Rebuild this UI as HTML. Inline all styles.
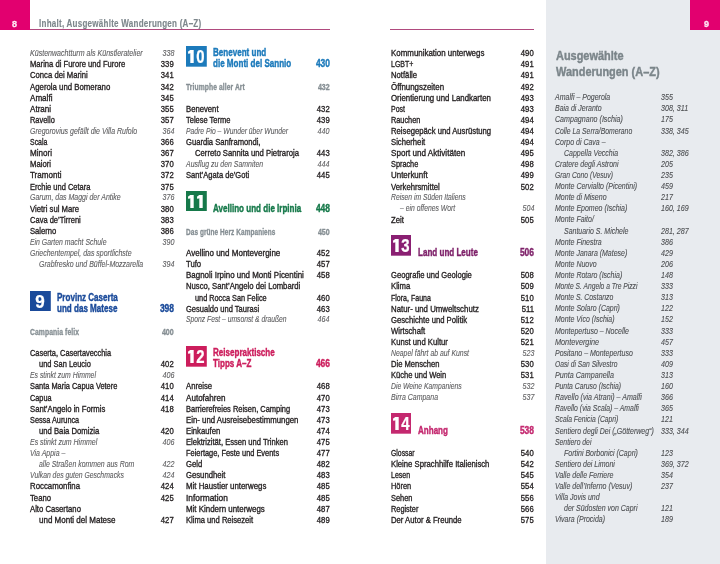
<!DOCTYPE html>
<html><head><meta charset="utf-8"><style>
html,body{margin:0;padding:0;}
body{width:720px;height:564px;position:relative;overflow:hidden;background:#fff;font-family:"Liberation Sans",sans-serif;}
.t{position:absolute;white-space:nowrap;-webkit-text-stroke:0.32px currentColor;}
.box{position:absolute;width:20.6px;height:20.6px;}
.dg{width:20.6px;text-align:center;color:#fff;font-weight:bold;transform:scaleX(0.94);transform-origin:50% 0;-webkit-text-stroke:0.3px #fff;}
.abs{position:absolute;}
</style></head><body>
<div id="pg" style="position:absolute;left:0;top:0;width:720px;height:564px;overflow:hidden;background:#fff;filter:blur(0.4px)">
<div class="abs" style="left:546px;top:0;width:174px;height:564px;background:#e8ebef"></div>
<div class="abs" style="left:0;top:0;width:30px;height:29.5px;background:#e2006f"></div>
<div class="abs" style="left:690px;top:0;width:30px;height:30px;background:#e2006f"></div>
<div class="abs" style="left:30px;top:29px;width:300px;height:1px;background:#b04a7e"></div>
<div class="abs" style="left:390px;top:29px;width:144px;height:1px;background:#b04a7e"></div>
<div class="t" style="top:18.63px;font-size:9.8px;line-height:10.947px;color:#ffe6f4;font-weight:bold;left:11.70px;transform:scaleX(0.92);transform-origin:0 0;">8</div>
<div class="t" style="top:18.63px;font-size:9.8px;line-height:10.947px;color:#ffe6f4;font-weight:bold;left:703.70px;transform:scaleX(0.92);transform-origin:0 0;">9</div>
<div class="t" style="top:17.77px;font-size:10.2px;line-height:11.393px;color:#7d878c;font-weight:bold;left:38.50px;transform:scaleX(0.79);transform-origin:0 0;-webkit-text-stroke:0.15px currentColor;letter-spacing:0.3px;">Inhalt, Ausgewählte Wanderungen (A–Z)</div>
<div class="t" style="top:48.82px;font-size:8.6px;line-height:9.606px;color:#5f5f61;font-style:italic;left:30.20px;transform:scaleX(0.822);transform-origin:0 0;-webkit-text-stroke:0.12px currentColor;">Küstenwachtturm als Künstleratelier</div>
<div class="t" style="top:48.82px;font-size:8.6px;line-height:9.606px;color:#5f5f61;font-style:italic;right:546.00px;transform:scaleX(0.8279);transform-origin:100% 0;-webkit-text-stroke:0.12px currentColor;">338</div>
<div class="t" style="top:60.29px;font-size:8.2px;line-height:9.159px;color:#231f20;left:30.20px;transform:scaleX(0.9312);transform-origin:0 0;">Marina di Furore und Furore</div>
<div class="t" style="top:60.29px;font-size:8.2px;line-height:9.159px;color:#231f20;right:546.00px;transform:scaleX(0.94);transform-origin:100% 0;">339</div>
<div class="t" style="top:71.40px;font-size:8.2px;line-height:9.159px;color:#231f20;left:30.20px;transform:scaleX(0.94);transform-origin:0 0;">Conca dei Marini</div>
<div class="t" style="top:71.40px;font-size:8.2px;line-height:9.159px;color:#231f20;right:546.00px;transform:scaleX(0.94);transform-origin:100% 0;">341</div>
<div class="t" style="top:82.51px;font-size:8.2px;line-height:9.159px;color:#231f20;left:30.20px;transform:scaleX(0.9532);transform-origin:0 0;">Agerola und Bomerano</div>
<div class="t" style="top:82.51px;font-size:8.2px;line-height:9.159px;color:#231f20;right:546.00px;transform:scaleX(0.94);transform-origin:100% 0;">342</div>
<div class="t" style="top:93.62px;font-size:8.2px;line-height:9.159px;color:#231f20;left:30.20px;transform:scaleX(0.987);transform-origin:0 0;">Amalfi</div>
<div class="t" style="top:93.62px;font-size:8.2px;line-height:9.159px;color:#231f20;right:546.00px;transform:scaleX(0.94);transform-origin:100% 0;">345</div>
<div class="t" style="top:104.73px;font-size:8.2px;line-height:9.159px;color:#231f20;left:30.20px;transform:scaleX(0.987);transform-origin:0 0;">Atrani</div>
<div class="t" style="top:104.73px;font-size:8.2px;line-height:9.159px;color:#231f20;right:546.00px;transform:scaleX(0.94);transform-origin:100% 0;">355</div>
<div class="t" style="top:115.84px;font-size:8.2px;line-height:9.159px;color:#231f20;left:30.20px;transform:scaleX(0.907);transform-origin:0 0;">Ravello</div>
<div class="t" style="top:115.84px;font-size:8.2px;line-height:9.159px;color:#231f20;right:546.00px;transform:scaleX(0.94);transform-origin:100% 0;">357</div>
<div class="t" style="top:126.59px;font-size:8.6px;line-height:9.606px;color:#5f5f61;font-style:italic;left:30.20px;transform:scaleX(0.814);transform-origin:0 0;-webkit-text-stroke:0.12px currentColor;">Gregorovius gefällt die Villa Rufolo</div>
<div class="t" style="top:126.59px;font-size:8.6px;line-height:9.606px;color:#5f5f61;font-style:italic;right:546.00px;transform:scaleX(0.8279);transform-origin:100% 0;-webkit-text-stroke:0.12px currentColor;">364</div>
<div class="t" style="top:138.06px;font-size:8.2px;line-height:9.159px;color:#231f20;left:30.20px;transform:scaleX(0.8483);transform-origin:0 0;">Scala</div>
<div class="t" style="top:138.06px;font-size:8.2px;line-height:9.159px;color:#231f20;right:546.00px;transform:scaleX(0.94);transform-origin:100% 0;">366</div>
<div class="t" style="top:149.17px;font-size:8.2px;line-height:9.159px;color:#231f20;left:30.20px;transform:scaleX(0.987);transform-origin:0 0;">Minori</div>
<div class="t" style="top:149.17px;font-size:8.2px;line-height:9.159px;color:#231f20;right:546.00px;transform:scaleX(0.94);transform-origin:100% 0;">367</div>
<div class="t" style="top:160.28px;font-size:8.2px;line-height:9.159px;color:#231f20;left:30.20px;transform:scaleX(0.94);transform-origin:0 0;">Maiori</div>
<div class="t" style="top:160.28px;font-size:8.2px;line-height:9.159px;color:#231f20;right:546.00px;transform:scaleX(0.94);transform-origin:100% 0;">370</div>
<div class="t" style="top:171.39px;font-size:8.2px;line-height:9.159px;color:#231f20;left:30.20px;transform:scaleX(0.9845);transform-origin:0 0;">Tramonti</div>
<div class="t" style="top:171.39px;font-size:8.2px;line-height:9.159px;color:#231f20;right:546.00px;transform:scaleX(0.94);transform-origin:100% 0;">372</div>
<div class="t" style="top:182.50px;font-size:8.2px;line-height:9.159px;color:#231f20;left:30.20px;transform:scaleX(0.9156);transform-origin:0 0;">Erchie und Cetara</div>
<div class="t" style="top:182.50px;font-size:8.2px;line-height:9.159px;color:#231f20;right:546.00px;transform:scaleX(0.94);transform-origin:100% 0;">375</div>
<div class="t" style="top:193.25px;font-size:8.6px;line-height:9.606px;color:#5f5f61;font-style:italic;left:30.20px;transform:scaleX(0.814);transform-origin:0 0;-webkit-text-stroke:0.12px currentColor;">Garum, das Maggi der Antike</div>
<div class="t" style="top:193.25px;font-size:8.6px;line-height:9.606px;color:#5f5f61;font-style:italic;right:546.00px;transform:scaleX(0.8279);transform-origin:100% 0;-webkit-text-stroke:0.12px currentColor;">376</div>
<div class="t" style="top:204.72px;font-size:8.2px;line-height:9.159px;color:#231f20;left:30.20px;transform:scaleX(0.94);transform-origin:0 0;">Vietri sul Mare</div>
<div class="t" style="top:204.72px;font-size:8.2px;line-height:9.159px;color:#231f20;right:546.00px;transform:scaleX(0.94);transform-origin:100% 0;">380</div>
<div class="t" style="top:215.83px;font-size:8.2px;line-height:9.159px;color:#231f20;left:30.20px;transform:scaleX(0.92);transform-origin:0 0;">Cava de’Tirreni</div>
<div class="t" style="top:215.83px;font-size:8.2px;line-height:9.159px;color:#231f20;right:546.00px;transform:scaleX(0.94);transform-origin:100% 0;">383</div>
<div class="t" style="top:226.94px;font-size:8.2px;line-height:9.159px;color:#231f20;left:30.20px;transform:scaleX(0.9341);transform-origin:0 0;">Salerno</div>
<div class="t" style="top:226.94px;font-size:8.2px;line-height:9.159px;color:#231f20;right:546.00px;transform:scaleX(0.94);transform-origin:100% 0;">386</div>
<div class="t" style="top:237.69px;font-size:8.6px;line-height:9.606px;color:#5f5f61;font-style:italic;left:30.20px;transform:scaleX(0.8003);transform-origin:0 0;-webkit-text-stroke:0.12px currentColor;">Ein Garten macht Schule</div>
<div class="t" style="top:237.69px;font-size:8.6px;line-height:9.606px;color:#5f5f61;font-style:italic;right:546.00px;transform:scaleX(0.8279);transform-origin:100% 0;-webkit-text-stroke:0.12px currentColor;">390</div>
<div class="t" style="top:248.80px;font-size:8.6px;line-height:9.606px;color:#5f5f61;font-style:italic;left:30.20px;transform:scaleX(0.8124);transform-origin:0 0;-webkit-text-stroke:0.12px currentColor;">Griechentempel, das sportlichste</div>
<div class="t" style="top:259.91px;font-size:8.6px;line-height:9.606px;color:#5f5f61;font-style:italic;left:39.20px;transform:scaleX(0.814);transform-origin:0 0;-webkit-text-stroke:0.12px currentColor;">Grabfresko und Büffel-Mozzarella</div>
<div class="t" style="top:259.91px;font-size:8.6px;line-height:9.606px;color:#5f5f61;font-style:italic;right:546.00px;transform:scaleX(0.8279);transform-origin:100% 0;-webkit-text-stroke:0.12px currentColor;">394</div>
<div class="t" style="top:327.73px;font-size:8.2px;line-height:9.159px;color:#858e93;font-weight:bold;left:30.20px;transform:scaleX(0.8285);transform-origin:0 0;-webkit-text-stroke:0.3px currentColor;letter-spacing:0.1px;">Campania felix</div>
<div class="t" style="top:327.73px;font-size:8.2px;line-height:9.159px;color:#858e93;font-weight:bold;right:546.00px;transform:scaleX(0.86);transform-origin:100% 0;">400</div>
<div class="t" style="top:349.15px;font-size:8.2px;line-height:9.159px;color:#231f20;left:30.20px;transform:scaleX(0.9051);transform-origin:0 0;">Caserta, Casertavecchia</div>
<div class="t" style="top:360.26px;font-size:8.2px;line-height:9.159px;color:#231f20;left:39.20px;transform:scaleX(0.9119);transform-origin:0 0;">und San Leucio</div>
<div class="t" style="top:360.26px;font-size:8.2px;line-height:9.159px;color:#231f20;right:546.00px;transform:scaleX(0.94);transform-origin:100% 0;">402</div>
<div class="t" style="top:371.01px;font-size:8.6px;line-height:9.606px;color:#5f5f61;font-style:italic;left:30.20px;transform:scaleX(0.7983);transform-origin:0 0;-webkit-text-stroke:0.12px currentColor;">Es stinkt zum Himmel</div>
<div class="t" style="top:371.01px;font-size:8.6px;line-height:9.606px;color:#5f5f61;font-style:italic;right:546.00px;transform:scaleX(0.8279);transform-origin:100% 0;-webkit-text-stroke:0.12px currentColor;">406</div>
<div class="t" style="top:382.48px;font-size:8.2px;line-height:9.159px;color:#231f20;left:30.20px;transform:scaleX(0.9047);transform-origin:0 0;">Santa Maria Capua Vetere</div>
<div class="t" style="top:382.48px;font-size:8.2px;line-height:9.159px;color:#231f20;right:546.00px;transform:scaleX(0.94);transform-origin:100% 0;">410</div>
<div class="t" style="top:393.59px;font-size:8.2px;line-height:9.159px;color:#231f20;left:30.20px;transform:scaleX(0.893);transform-origin:0 0;">Capua</div>
<div class="t" style="top:393.59px;font-size:8.2px;line-height:9.159px;color:#231f20;right:546.00px;transform:scaleX(0.94);transform-origin:100% 0;">414</div>
<div class="t" style="top:404.70px;font-size:8.2px;line-height:9.159px;color:#231f20;left:30.20px;transform:scaleX(0.94);transform-origin:0 0;">Sant’Angelo in Formis</div>
<div class="t" style="top:404.70px;font-size:8.2px;line-height:9.159px;color:#231f20;right:546.00px;transform:scaleX(0.94);transform-origin:100% 0;">418</div>
<div class="t" style="top:415.81px;font-size:8.2px;line-height:9.159px;color:#231f20;left:30.20px;transform:scaleX(0.893);transform-origin:0 0;">Sessa Aurunca</div>
<div class="t" style="top:426.92px;font-size:8.2px;line-height:9.159px;color:#231f20;left:39.20px;transform:scaleX(0.94);transform-origin:0 0;">und Baia Domizia</div>
<div class="t" style="top:426.92px;font-size:8.2px;line-height:9.159px;color:#231f20;right:546.00px;transform:scaleX(0.94);transform-origin:100% 0;">420</div>
<div class="t" style="top:437.67px;font-size:8.6px;line-height:9.606px;color:#5f5f61;font-style:italic;left:30.20px;transform:scaleX(0.8142);transform-origin:0 0;-webkit-text-stroke:0.12px currentColor;">Es stinkt zum Himmel</div>
<div class="t" style="top:437.67px;font-size:8.6px;line-height:9.606px;color:#5f5f61;font-style:italic;right:546.00px;transform:scaleX(0.8279);transform-origin:100% 0;-webkit-text-stroke:0.12px currentColor;">406</div>
<div class="t" style="top:448.78px;font-size:8.6px;line-height:9.606px;color:#5f5f61;font-style:italic;left:30.20px;transform:scaleX(0.814);transform-origin:0 0;-webkit-text-stroke:0.12px currentColor;">Via Appia –</div>
<div class="t" style="top:459.89px;font-size:8.6px;line-height:9.606px;color:#5f5f61;font-style:italic;left:39.20px;transform:scaleX(0.8046);transform-origin:0 0;-webkit-text-stroke:0.12px currentColor;">alle Straßen kommen aus Rom</div>
<div class="t" style="top:459.89px;font-size:8.6px;line-height:9.606px;color:#5f5f61;font-style:italic;right:546.00px;transform:scaleX(0.8279);transform-origin:100% 0;-webkit-text-stroke:0.12px currentColor;">422</div>
<div class="t" style="top:471.00px;font-size:8.6px;line-height:9.606px;color:#5f5f61;font-style:italic;left:30.20px;transform:scaleX(0.7933);transform-origin:0 0;-webkit-text-stroke:0.12px currentColor;">Vulkan des guten Geschmacks</div>
<div class="t" style="top:471.00px;font-size:8.6px;line-height:9.606px;color:#5f5f61;font-style:italic;right:546.00px;transform:scaleX(0.8279);transform-origin:100% 0;-webkit-text-stroke:0.12px currentColor;">424</div>
<div class="t" style="top:482.47px;font-size:8.2px;line-height:9.159px;color:#231f20;left:30.20px;transform:scaleX(0.9555);transform-origin:0 0;">Roccamonfina</div>
<div class="t" style="top:482.47px;font-size:8.2px;line-height:9.159px;color:#231f20;right:546.00px;transform:scaleX(0.94);transform-origin:100% 0;">424</div>
<div class="t" style="top:493.58px;font-size:8.2px;line-height:9.159px;color:#231f20;left:30.20px;transform:scaleX(0.94);transform-origin:0 0;">Teano</div>
<div class="t" style="top:493.58px;font-size:8.2px;line-height:9.159px;color:#231f20;right:546.00px;transform:scaleX(0.94);transform-origin:100% 0;">425</div>
<div class="t" style="top:504.69px;font-size:8.2px;line-height:9.159px;color:#231f20;left:30.20px;transform:scaleX(0.94);transform-origin:0 0;">Alto Casertano</div>
<div class="t" style="top:515.80px;font-size:8.2px;line-height:9.159px;color:#231f20;left:39.20px;transform:scaleX(0.9775);transform-origin:0 0;">und Monti del Matese</div>
<div class="t" style="top:515.80px;font-size:8.2px;line-height:9.159px;color:#231f20;right:546.00px;transform:scaleX(0.94);transform-origin:100% 0;">427</div>
<svg class="abs" style="left:30.20px;top:290.63px" width="20.8" height="20.7" viewBox="0 0 20.8 20.7"><rect x="0" y="0" width="20.8" height="20.7" fill="#1a4a9a"/><text transform="translate(5.32,17.0) scale(0.947,1)" font-size="18.0" font-weight="bold" fill="#fff" stroke="#fff" stroke-width="0.25" font-family="Liberation Sans">9</text></svg>
<div class="t" style="top:291.79px;font-size:10.2px;line-height:11.393px;color:#1a4a9a;font-weight:bold;left:57.40px;transform:scaleX(0.79);transform-origin:0 0;-webkit-text-stroke:0.4px currentColor;">Provinz Caserta</div>
<div class="t" style="top:302.90px;font-size:10.2px;line-height:11.393px;color:#1a4a9a;font-weight:bold;left:57.40px;transform:scaleX(0.79);transform-origin:0 0;-webkit-text-stroke:0.4px currentColor;">und das Matese</div>
<div class="t" style="top:302.90px;font-size:10.2px;line-height:11.393px;color:#1a4a9a;font-weight:bold;right:546.00px;transform:scaleX(0.83);transform-origin:100% 0;-webkit-text-stroke:0.4px currentColor;">398</div>
<svg class="abs" style="left:186.20px;top:46.21px" width="20.8" height="20.7" viewBox="0 0 20.8 20.7"><rect x="0" y="0" width="20.8" height="20.7" fill="#1c7abb"/><polygon fill="#fff" points="4.20,4.10 7.70,4.10 7.70,17.00 4.30,17.00 4.30,7.20 2.40,8.00 1.90,5.80"/><text transform="translate(10.30,17.0) scale(0.830,1)" font-size="18.0" font-weight="bold" fill="#fff" stroke="#fff" stroke-width="0.25" font-family="Liberation Sans">0</text></svg>
<div class="t" style="top:47.37px;font-size:10.2px;line-height:11.393px;color:#1c7abb;font-weight:bold;left:213.40px;transform:scaleX(0.79);transform-origin:0 0;-webkit-text-stroke:0.4px currentColor;">Benevent und</div>
<div class="t" style="top:58.48px;font-size:10.2px;line-height:11.393px;color:#1c7abb;font-weight:bold;left:213.40px;transform:scaleX(0.79);transform-origin:0 0;-webkit-text-stroke:0.4px currentColor;">die Monti del Sannio</div>
<div class="t" style="top:58.48px;font-size:10.2px;line-height:11.393px;color:#1c7abb;font-weight:bold;right:390.20px;transform:scaleX(0.83);transform-origin:100% 0;-webkit-text-stroke:0.4px currentColor;">430</div>
<div class="t" style="top:83.31px;font-size:8.2px;line-height:9.159px;color:#858e93;font-weight:bold;left:186.20px;transform:scaleX(0.8231);transform-origin:0 0;-webkit-text-stroke:0.3px currentColor;letter-spacing:0.1px;">Triumphe aller Art</div>
<div class="t" style="top:83.31px;font-size:8.2px;line-height:9.159px;color:#858e93;font-weight:bold;right:390.20px;transform:scaleX(0.86);transform-origin:100% 0;">432</div>
<div class="t" style="top:104.73px;font-size:8.2px;line-height:9.159px;color:#231f20;left:186.20px;transform:scaleX(0.94);transform-origin:0 0;">Benevent</div>
<div class="t" style="top:104.73px;font-size:8.2px;line-height:9.159px;color:#231f20;right:390.20px;transform:scaleX(0.94);transform-origin:100% 0;">432</div>
<div class="t" style="top:115.84px;font-size:8.2px;line-height:9.159px;color:#231f20;left:186.20px;transform:scaleX(0.9126);transform-origin:0 0;">Telese Terme</div>
<div class="t" style="top:115.84px;font-size:8.2px;line-height:9.159px;color:#231f20;right:390.20px;transform:scaleX(0.94);transform-origin:100% 0;">439</div>
<div class="t" style="top:126.59px;font-size:8.6px;line-height:9.606px;color:#5f5f61;font-style:italic;left:186.20px;transform:scaleX(0.7877);transform-origin:0 0;-webkit-text-stroke:0.12px currentColor;">Padre Pio – Wunder über Wunder</div>
<div class="t" style="top:126.59px;font-size:8.6px;line-height:9.606px;color:#5f5f61;font-style:italic;right:390.20px;transform:scaleX(0.8279);transform-origin:100% 0;-webkit-text-stroke:0.12px currentColor;">440</div>
<div class="t" style="top:138.06px;font-size:8.2px;line-height:9.159px;color:#231f20;left:186.20px;transform:scaleX(0.9299);transform-origin:0 0;">Guardia Sanframondi,</div>
<div class="t" style="top:149.17px;font-size:8.2px;line-height:9.159px;color:#231f20;left:195.20px;transform:scaleX(0.94);transform-origin:0 0;">Cerreto Sannita und Pietraroja</div>
<div class="t" style="top:149.17px;font-size:8.2px;line-height:9.159px;color:#231f20;right:390.20px;transform:scaleX(0.94);transform-origin:100% 0;">443</div>
<div class="t" style="top:159.92px;font-size:8.6px;line-height:9.606px;color:#5f5f61;font-style:italic;left:186.20px;transform:scaleX(0.8069);transform-origin:0 0;-webkit-text-stroke:0.12px currentColor;">Ausflug zu den Samniten</div>
<div class="t" style="top:159.92px;font-size:8.6px;line-height:9.606px;color:#5f5f61;font-style:italic;right:390.20px;transform:scaleX(0.8279);transform-origin:100% 0;-webkit-text-stroke:0.12px currentColor;">444</div>
<div class="t" style="top:171.39px;font-size:8.2px;line-height:9.159px;color:#231f20;left:186.20px;transform:scaleX(0.9267);transform-origin:0 0;">Sant’Agata de’Goti</div>
<div class="t" style="top:171.39px;font-size:8.2px;line-height:9.159px;color:#231f20;right:390.20px;transform:scaleX(0.94);transform-origin:100% 0;">445</div>
<div class="t" style="top:227.74px;font-size:8.2px;line-height:9.159px;color:#858e93;font-weight:bold;left:186.20px;transform:scaleX(0.7874);transform-origin:0 0;-webkit-text-stroke:0.3px currentColor;letter-spacing:0.1px;">Das grüne Herz Kampaniens</div>
<div class="t" style="top:227.74px;font-size:8.2px;line-height:9.159px;color:#858e93;font-weight:bold;right:390.20px;transform:scaleX(0.86);transform-origin:100% 0;">450</div>
<div class="t" style="top:249.16px;font-size:8.2px;line-height:9.159px;color:#231f20;left:186.20px;transform:scaleX(0.9788);transform-origin:0 0;">Avellino und Montevergine</div>
<div class="t" style="top:249.16px;font-size:8.2px;line-height:9.159px;color:#231f20;right:390.20px;transform:scaleX(0.94);transform-origin:100% 0;">452</div>
<div class="t" style="top:260.27px;font-size:8.2px;line-height:9.159px;color:#231f20;left:186.20px;transform:scaleX(0.94);transform-origin:0 0;">Tufo</div>
<div class="t" style="top:260.27px;font-size:8.2px;line-height:9.159px;color:#231f20;right:390.20px;transform:scaleX(0.94);transform-origin:100% 0;">457</div>
<div class="t" style="top:271.38px;font-size:8.2px;line-height:9.159px;color:#231f20;left:186.20px;transform:scaleX(0.9698);transform-origin:0 0;">Bagnoli Irpino und Monti Picentini</div>
<div class="t" style="top:271.38px;font-size:8.2px;line-height:9.159px;color:#231f20;right:390.20px;transform:scaleX(0.94);transform-origin:100% 0;">458</div>
<div class="t" style="top:282.49px;font-size:8.2px;line-height:9.159px;color:#231f20;left:186.20px;transform:scaleX(0.94);transform-origin:0 0;">Nusco, Sant’Angelo dei Lombardi</div>
<div class="t" style="top:293.60px;font-size:8.2px;line-height:9.159px;color:#231f20;left:195.20px;transform:scaleX(0.8946);transform-origin:0 0;">und Rocca San Felice</div>
<div class="t" style="top:293.60px;font-size:8.2px;line-height:9.159px;color:#231f20;right:390.20px;transform:scaleX(0.94);transform-origin:100% 0;">460</div>
<div class="t" style="top:304.71px;font-size:8.2px;line-height:9.159px;color:#231f20;left:186.20px;transform:scaleX(0.9198);transform-origin:0 0;">Gesualdo und Taurasi</div>
<div class="t" style="top:304.71px;font-size:8.2px;line-height:9.159px;color:#231f20;right:390.20px;transform:scaleX(0.94);transform-origin:100% 0;">463</div>
<div class="t" style="top:315.46px;font-size:8.6px;line-height:9.606px;color:#5f5f61;font-style:italic;left:186.20px;transform:scaleX(0.7854);transform-origin:0 0;-webkit-text-stroke:0.12px currentColor;">Sponz Fest – umsonst &amp; draußen</div>
<div class="t" style="top:315.46px;font-size:8.6px;line-height:9.606px;color:#5f5f61;font-style:italic;right:390.20px;transform:scaleX(0.8279);transform-origin:100% 0;-webkit-text-stroke:0.12px currentColor;">464</div>
<div class="t" style="top:382.48px;font-size:8.2px;line-height:9.159px;color:#231f20;left:186.20px;transform:scaleX(0.94);transform-origin:0 0;">Anreise</div>
<div class="t" style="top:382.48px;font-size:8.2px;line-height:9.159px;color:#231f20;right:390.20px;transform:scaleX(0.94);transform-origin:100% 0;">468</div>
<div class="t" style="top:393.59px;font-size:8.2px;line-height:9.159px;color:#231f20;left:186.20px;transform:scaleX(0.987);transform-origin:0 0;">Autofahren</div>
<div class="t" style="top:393.59px;font-size:8.2px;line-height:9.159px;color:#231f20;right:390.20px;transform:scaleX(0.94);transform-origin:100% 0;">470</div>
<div class="t" style="top:404.70px;font-size:8.2px;line-height:9.159px;color:#231f20;left:186.20px;transform:scaleX(0.9119);transform-origin:0 0;">Barrierefreies Reisen, Camping</div>
<div class="t" style="top:404.70px;font-size:8.2px;line-height:9.159px;color:#231f20;right:390.20px;transform:scaleX(0.94);transform-origin:100% 0;">473</div>
<div class="t" style="top:415.81px;font-size:8.2px;line-height:9.159px;color:#231f20;left:186.20px;transform:scaleX(0.9536);transform-origin:0 0;">Ein- und Ausreisebestimmungen</div>
<div class="t" style="top:415.81px;font-size:8.2px;line-height:9.159px;color:#231f20;right:390.20px;transform:scaleX(0.94);transform-origin:100% 0;">473</div>
<div class="t" style="top:426.92px;font-size:8.2px;line-height:9.159px;color:#231f20;left:186.20px;transform:scaleX(0.94);transform-origin:0 0;">Einkaufen</div>
<div class="t" style="top:426.92px;font-size:8.2px;line-height:9.159px;color:#231f20;right:390.20px;transform:scaleX(0.94);transform-origin:100% 0;">474</div>
<div class="t" style="top:438.03px;font-size:8.2px;line-height:9.159px;color:#231f20;left:186.20px;transform:scaleX(0.9253);transform-origin:0 0;">Elektrizität, Essen und Trinken</div>
<div class="t" style="top:438.03px;font-size:8.2px;line-height:9.159px;color:#231f20;right:390.20px;transform:scaleX(0.94);transform-origin:100% 0;">475</div>
<div class="t" style="top:449.14px;font-size:8.2px;line-height:9.159px;color:#231f20;left:186.20px;transform:scaleX(0.905);transform-origin:0 0;">Feiertage, Feste und Events</div>
<div class="t" style="top:449.14px;font-size:8.2px;line-height:9.159px;color:#231f20;right:390.20px;transform:scaleX(0.94);transform-origin:100% 0;">477</div>
<div class="t" style="top:460.25px;font-size:8.2px;line-height:9.159px;color:#231f20;left:186.20px;transform:scaleX(0.94);transform-origin:0 0;">Geld</div>
<div class="t" style="top:460.25px;font-size:8.2px;line-height:9.159px;color:#231f20;right:390.20px;transform:scaleX(0.94);transform-origin:100% 0;">482</div>
<div class="t" style="top:471.36px;font-size:8.2px;line-height:9.159px;color:#231f20;left:186.20px;transform:scaleX(0.94);transform-origin:0 0;">Gesundheit</div>
<div class="t" style="top:471.36px;font-size:8.2px;line-height:9.159px;color:#231f20;right:390.20px;transform:scaleX(0.94);transform-origin:100% 0;">483</div>
<div class="t" style="top:482.47px;font-size:8.2px;line-height:9.159px;color:#231f20;left:186.20px;transform:scaleX(0.9591);transform-origin:0 0;">Mit Haustier unterwegs</div>
<div class="t" style="top:482.47px;font-size:8.2px;line-height:9.159px;color:#231f20;right:390.20px;transform:scaleX(0.94);transform-origin:100% 0;">485</div>
<div class="t" style="top:493.58px;font-size:8.2px;line-height:9.159px;color:#231f20;left:186.20px;transform:scaleX(1.0219);transform-origin:0 0;">Information</div>
<div class="t" style="top:493.58px;font-size:8.2px;line-height:9.159px;color:#231f20;right:390.20px;transform:scaleX(0.94);transform-origin:100% 0;">485</div>
<div class="t" style="top:504.69px;font-size:8.2px;line-height:9.159px;color:#231f20;left:186.20px;transform:scaleX(0.967);transform-origin:0 0;">Mit Kindern unterwegs</div>
<div class="t" style="top:504.69px;font-size:8.2px;line-height:9.159px;color:#231f20;right:390.20px;transform:scaleX(0.94);transform-origin:100% 0;">487</div>
<div class="t" style="top:515.80px;font-size:8.2px;line-height:9.159px;color:#231f20;left:186.20px;transform:scaleX(0.9275);transform-origin:0 0;">Klima und Reisezeit</div>
<div class="t" style="top:515.80px;font-size:8.2px;line-height:9.159px;color:#231f20;right:390.20px;transform:scaleX(0.94);transform-origin:100% 0;">489</div>
<svg class="abs" style="left:186.20px;top:190.64px" width="20.8" height="20.7" viewBox="0 0 20.8 20.7"><rect x="0" y="0" width="20.8" height="20.7" fill="#16794a"/><polygon fill="#fff" points="4.20,4.10 7.70,4.10 7.70,17.00 4.30,17.00 4.30,7.20 2.40,8.00 1.90,5.80"/><polygon fill="#fff" points="13.20,4.10 16.70,4.10 16.70,17.00 13.30,17.00 13.30,7.20 11.40,8.00 10.90,5.80"/></svg>
<div class="t" style="top:202.91px;font-size:10.2px;line-height:11.393px;color:#16794a;font-weight:bold;left:213.40px;transform:scaleX(0.79);transform-origin:0 0;-webkit-text-stroke:0.4px currentColor;">Avellino und die Irpinia</div>
<div class="t" style="top:202.91px;font-size:10.2px;line-height:11.393px;color:#16794a;font-weight:bold;right:390.20px;transform:scaleX(0.83);transform-origin:100% 0;-webkit-text-stroke:0.4px currentColor;">448</div>
<svg class="abs" style="left:186.20px;top:346.18px" width="20.8" height="20.7" viewBox="0 0 20.8 20.7"><rect x="0" y="0" width="20.8" height="20.7" fill="#cc1d5c"/><polygon fill="#fff" points="4.20,4.10 7.70,4.10 7.70,17.00 4.30,17.00 4.30,7.20 2.40,8.00 1.90,5.80"/><text transform="translate(10.30,17.0) scale(0.830,1)" font-size="18.0" font-weight="bold" fill="#fff" stroke="#fff" stroke-width="0.25" font-family="Liberation Sans">2</text></svg>
<div class="t" style="top:347.34px;font-size:10.2px;line-height:11.393px;color:#cc1d5c;font-weight:bold;left:213.40px;transform:scaleX(0.79);transform-origin:0 0;-webkit-text-stroke:0.4px currentColor;">Reisepraktische</div>
<div class="t" style="top:358.45px;font-size:10.2px;line-height:11.393px;color:#cc1d5c;font-weight:bold;left:213.40px;transform:scaleX(0.79);transform-origin:0 0;-webkit-text-stroke:0.4px currentColor;">Tipps A–Z</div>
<div class="t" style="top:358.45px;font-size:10.2px;line-height:11.393px;color:#cc1d5c;font-weight:bold;right:390.20px;transform:scaleX(0.83);transform-origin:100% 0;-webkit-text-stroke:0.4px currentColor;">466</div>
<div class="t" style="top:49.18px;font-size:8.2px;line-height:9.159px;color:#231f20;left:390.60px;transform:scaleX(0.968);transform-origin:0 0;">Kommunikation unterwegs</div>
<div class="t" style="top:49.18px;font-size:8.2px;line-height:9.159px;color:#231f20;right:186.00px;transform:scaleX(0.94);transform-origin:100% 0;">490</div>
<div class="t" style="top:60.29px;font-size:8.2px;line-height:9.159px;color:#231f20;left:390.60px;transform:scaleX(0.8574);transform-origin:0 0;">LGBT+</div>
<div class="t" style="top:60.29px;font-size:8.2px;line-height:9.159px;color:#231f20;right:186.00px;transform:scaleX(0.94);transform-origin:100% 0;">491</div>
<div class="t" style="top:71.40px;font-size:8.2px;line-height:9.159px;color:#231f20;left:390.60px;transform:scaleX(0.94);transform-origin:0 0;">Notfälle</div>
<div class="t" style="top:71.40px;font-size:8.2px;line-height:9.159px;color:#231f20;right:186.00px;transform:scaleX(0.94);transform-origin:100% 0;">491</div>
<div class="t" style="top:82.51px;font-size:8.2px;line-height:9.159px;color:#231f20;left:390.60px;transform:scaleX(0.966);transform-origin:0 0;">Öffnungszeiten</div>
<div class="t" style="top:82.51px;font-size:8.2px;line-height:9.159px;color:#231f20;right:186.00px;transform:scaleX(0.94);transform-origin:100% 0;">492</div>
<div class="t" style="top:93.62px;font-size:8.2px;line-height:9.159px;color:#231f20;left:390.60px;transform:scaleX(0.9583);transform-origin:0 0;">Orientierung und Landkarten</div>
<div class="t" style="top:93.62px;font-size:8.2px;line-height:9.159px;color:#231f20;right:186.00px;transform:scaleX(0.94);transform-origin:100% 0;">493</div>
<div class="t" style="top:104.73px;font-size:8.2px;line-height:9.159px;color:#231f20;left:390.60px;transform:scaleX(0.8483);transform-origin:0 0;">Post</div>
<div class="t" style="top:104.73px;font-size:8.2px;line-height:9.159px;color:#231f20;right:186.00px;transform:scaleX(0.94);transform-origin:100% 0;">493</div>
<div class="t" style="top:115.84px;font-size:8.2px;line-height:9.159px;color:#231f20;left:390.60px;transform:scaleX(0.893);transform-origin:0 0;">Rauchen</div>
<div class="t" style="top:115.84px;font-size:8.2px;line-height:9.159px;color:#231f20;right:186.00px;transform:scaleX(0.94);transform-origin:100% 0;">494</div>
<div class="t" style="top:126.95px;font-size:8.2px;line-height:9.159px;color:#231f20;left:390.60px;transform:scaleX(0.94);transform-origin:0 0;">Reisegepäck und Ausrüstung</div>
<div class="t" style="top:126.95px;font-size:8.2px;line-height:9.159px;color:#231f20;right:186.00px;transform:scaleX(0.94);transform-origin:100% 0;">494</div>
<div class="t" style="top:138.06px;font-size:8.2px;line-height:9.159px;color:#231f20;left:390.60px;transform:scaleX(0.94);transform-origin:0 0;">Sicherheit</div>
<div class="t" style="top:138.06px;font-size:8.2px;line-height:9.159px;color:#231f20;right:186.00px;transform:scaleX(0.94);transform-origin:100% 0;">494</div>
<div class="t" style="top:149.17px;font-size:8.2px;line-height:9.159px;color:#231f20;left:390.60px;transform:scaleX(0.987);transform-origin:0 0;">Sport und Aktivitäten</div>
<div class="t" style="top:149.17px;font-size:8.2px;line-height:9.159px;color:#231f20;right:186.00px;transform:scaleX(0.94);transform-origin:100% 0;">495</div>
<div class="t" style="top:160.28px;font-size:8.2px;line-height:9.159px;color:#231f20;left:390.60px;transform:scaleX(0.893);transform-origin:0 0;">Sprache</div>
<div class="t" style="top:160.28px;font-size:8.2px;line-height:9.159px;color:#231f20;right:186.00px;transform:scaleX(0.94);transform-origin:100% 0;">498</div>
<div class="t" style="top:171.39px;font-size:8.2px;line-height:9.159px;color:#231f20;left:390.60px;transform:scaleX(0.969);transform-origin:0 0;">Unterkunft</div>
<div class="t" style="top:171.39px;font-size:8.2px;line-height:9.159px;color:#231f20;right:186.00px;transform:scaleX(0.94);transform-origin:100% 0;">499</div>
<div class="t" style="top:182.50px;font-size:8.2px;line-height:9.159px;color:#231f20;left:390.60px;transform:scaleX(0.94);transform-origin:0 0;">Verkehrsmittel</div>
<div class="t" style="top:182.50px;font-size:8.2px;line-height:9.159px;color:#231f20;right:186.00px;transform:scaleX(0.94);transform-origin:100% 0;">502</div>
<div class="t" style="top:193.25px;font-size:8.6px;line-height:9.606px;color:#5f5f61;font-style:italic;left:390.60px;transform:scaleX(0.7863);transform-origin:0 0;-webkit-text-stroke:0.12px currentColor;">Reisen im Süden Italiens</div>
<div class="t" style="top:204.36px;font-size:8.6px;line-height:9.606px;color:#5f5f61;font-style:italic;left:399.60px;transform:scaleX(0.791);transform-origin:0 0;-webkit-text-stroke:0.12px currentColor;">– ein offenes Wort</div>
<div class="t" style="top:204.36px;font-size:8.6px;line-height:9.606px;color:#5f5f61;font-style:italic;right:186.00px;transform:scaleX(0.8279);transform-origin:100% 0;-webkit-text-stroke:0.12px currentColor;">504</div>
<div class="t" style="top:215.83px;font-size:8.2px;line-height:9.159px;color:#231f20;left:390.60px;transform:scaleX(0.94);transform-origin:0 0;">Zeit</div>
<div class="t" style="top:215.83px;font-size:8.2px;line-height:9.159px;color:#231f20;right:186.00px;transform:scaleX(0.94);transform-origin:100% 0;">505</div>
<div class="t" style="top:271.38px;font-size:8.2px;line-height:9.159px;color:#231f20;left:390.60px;transform:scaleX(0.9296);transform-origin:0 0;">Geografie und Geologie</div>
<div class="t" style="top:271.38px;font-size:8.2px;line-height:9.159px;color:#231f20;right:186.00px;transform:scaleX(0.94);transform-origin:100% 0;">508</div>
<div class="t" style="top:282.49px;font-size:8.2px;line-height:9.159px;color:#231f20;left:390.60px;transform:scaleX(0.94);transform-origin:0 0;">Klima</div>
<div class="t" style="top:282.49px;font-size:8.2px;line-height:9.159px;color:#231f20;right:186.00px;transform:scaleX(0.94);transform-origin:100% 0;">509</div>
<div class="t" style="top:293.60px;font-size:8.2px;line-height:9.159px;color:#231f20;left:390.60px;transform:scaleX(0.8587);transform-origin:0 0;">Flora, Fauna</div>
<div class="t" style="top:293.60px;font-size:8.2px;line-height:9.159px;color:#231f20;right:186.00px;transform:scaleX(0.94);transform-origin:100% 0;">510</div>
<div class="t" style="top:304.71px;font-size:8.2px;line-height:9.159px;color:#231f20;left:390.60px;transform:scaleX(0.9555);transform-origin:0 0;">Natur- und Umweltschutz</div>
<div class="t" style="top:304.71px;font-size:8.2px;line-height:9.159px;color:#231f20;right:186.00px;transform:scaleX(0.94);transform-origin:100% 0;">511</div>
<div class="t" style="top:315.82px;font-size:8.2px;line-height:9.159px;color:#231f20;left:390.60px;transform:scaleX(0.94);transform-origin:0 0;">Geschichte und Politik</div>
<div class="t" style="top:315.82px;font-size:8.2px;line-height:9.159px;color:#231f20;right:186.00px;transform:scaleX(0.94);transform-origin:100% 0;">512</div>
<div class="t" style="top:326.93px;font-size:8.2px;line-height:9.159px;color:#231f20;left:390.60px;transform:scaleX(0.94);transform-origin:0 0;">Wirtschaft</div>
<div class="t" style="top:326.93px;font-size:8.2px;line-height:9.159px;color:#231f20;right:186.00px;transform:scaleX(0.94);transform-origin:100% 0;">520</div>
<div class="t" style="top:338.04px;font-size:8.2px;line-height:9.159px;color:#231f20;left:390.60px;transform:scaleX(0.94);transform-origin:0 0;">Kunst und Kultur</div>
<div class="t" style="top:338.04px;font-size:8.2px;line-height:9.159px;color:#231f20;right:186.00px;transform:scaleX(0.94);transform-origin:100% 0;">521</div>
<div class="t" style="top:348.79px;font-size:8.6px;line-height:9.606px;color:#5f5f61;font-style:italic;left:390.60px;transform:scaleX(0.8007);transform-origin:0 0;-webkit-text-stroke:0.12px currentColor;">Neapel fährt ab auf Kunst</div>
<div class="t" style="top:348.79px;font-size:8.6px;line-height:9.606px;color:#5f5f61;font-style:italic;right:186.00px;transform:scaleX(0.8279);transform-origin:100% 0;-webkit-text-stroke:0.12px currentColor;">523</div>
<div class="t" style="top:360.26px;font-size:8.2px;line-height:9.159px;color:#231f20;left:390.60px;transform:scaleX(0.9245);transform-origin:0 0;">Die Menschen</div>
<div class="t" style="top:360.26px;font-size:8.2px;line-height:9.159px;color:#231f20;right:186.00px;transform:scaleX(0.94);transform-origin:100% 0;">530</div>
<div class="t" style="top:371.37px;font-size:8.2px;line-height:9.159px;color:#231f20;left:390.60px;transform:scaleX(0.9214);transform-origin:0 0;">Küche und Wein</div>
<div class="t" style="top:371.37px;font-size:8.2px;line-height:9.159px;color:#231f20;right:186.00px;transform:scaleX(0.94);transform-origin:100% 0;">531</div>
<div class="t" style="top:382.12px;font-size:8.6px;line-height:9.606px;color:#5f5f61;font-style:italic;left:390.60px;transform:scaleX(0.7882);transform-origin:0 0;-webkit-text-stroke:0.12px currentColor;">Die Weine Kampaniens</div>
<div class="t" style="top:382.12px;font-size:8.6px;line-height:9.606px;color:#5f5f61;font-style:italic;right:186.00px;transform:scaleX(0.8279);transform-origin:100% 0;-webkit-text-stroke:0.12px currentColor;">532</div>
<div class="t" style="top:393.23px;font-size:8.6px;line-height:9.606px;color:#5f5f61;font-style:italic;left:390.60px;transform:scaleX(0.814);transform-origin:0 0;-webkit-text-stroke:0.12px currentColor;">Birra Campana</div>
<div class="t" style="top:393.23px;font-size:8.6px;line-height:9.606px;color:#5f5f61;font-style:italic;right:186.00px;transform:scaleX(0.8279);transform-origin:100% 0;-webkit-text-stroke:0.12px currentColor;">537</div>
<div class="t" style="top:449.14px;font-size:8.2px;line-height:9.159px;color:#231f20;left:390.60px;transform:scaleX(0.8373);transform-origin:0 0;">Glossar</div>
<div class="t" style="top:449.14px;font-size:8.2px;line-height:9.159px;color:#231f20;right:186.00px;transform:scaleX(0.94);transform-origin:100% 0;">540</div>
<div class="t" style="top:460.25px;font-size:8.2px;line-height:9.159px;color:#231f20;left:390.60px;transform:scaleX(0.94);transform-origin:0 0;">Kleine Sprachhilfe Italienisch</div>
<div class="t" style="top:460.25px;font-size:8.2px;line-height:9.159px;color:#231f20;right:186.00px;transform:scaleX(0.94);transform-origin:100% 0;">542</div>
<div class="t" style="top:471.36px;font-size:8.2px;line-height:9.159px;color:#231f20;left:390.60px;transform:scaleX(0.852);transform-origin:0 0;">Lesen</div>
<div class="t" style="top:471.36px;font-size:8.2px;line-height:9.159px;color:#231f20;right:186.00px;transform:scaleX(0.94);transform-origin:100% 0;">545</div>
<div class="t" style="top:482.47px;font-size:8.2px;line-height:9.159px;color:#231f20;left:390.60px;transform:scaleX(0.9035);transform-origin:0 0;">Hören</div>
<div class="t" style="top:482.47px;font-size:8.2px;line-height:9.159px;color:#231f20;right:186.00px;transform:scaleX(0.94);transform-origin:100% 0;">554</div>
<div class="t" style="top:493.58px;font-size:8.2px;line-height:9.159px;color:#231f20;left:390.60px;transform:scaleX(0.9052);transform-origin:0 0;">Sehen</div>
<div class="t" style="top:493.58px;font-size:8.2px;line-height:9.159px;color:#231f20;right:186.00px;transform:scaleX(0.94);transform-origin:100% 0;">556</div>
<div class="t" style="top:504.69px;font-size:8.2px;line-height:9.159px;color:#231f20;left:390.60px;transform:scaleX(0.8973);transform-origin:0 0;">Register</div>
<div class="t" style="top:504.69px;font-size:8.2px;line-height:9.159px;color:#231f20;right:186.00px;transform:scaleX(0.94);transform-origin:100% 0;">566</div>
<div class="t" style="top:515.80px;font-size:8.2px;line-height:9.159px;color:#231f20;left:390.60px;transform:scaleX(0.94);transform-origin:0 0;">Der Autor &amp; Freunde</div>
<div class="t" style="top:515.80px;font-size:8.2px;line-height:9.159px;color:#231f20;right:186.00px;transform:scaleX(0.94);transform-origin:100% 0;">575</div>
<svg class="abs" style="left:390.60px;top:235.08px" width="20.8" height="20.7" viewBox="0 0 20.8 20.7"><rect x="0" y="0" width="20.8" height="20.7" fill="#8a1f72"/><polygon fill="#fff" points="4.20,4.10 7.70,4.10 7.70,17.00 4.30,17.00 4.30,7.20 2.40,8.00 1.90,5.80"/><text transform="translate(10.30,17.0) scale(0.830,1)" font-size="18.0" font-weight="bold" fill="#fff" stroke="#fff" stroke-width="0.25" font-family="Liberation Sans">3</text></svg>
<div class="t" style="top:247.35px;font-size:10.2px;line-height:11.393px;color:#7d1f68;font-weight:bold;left:417.80px;transform:scaleX(0.79);transform-origin:0 0;-webkit-text-stroke:0.4px currentColor;">Land und Leute</div>
<div class="t" style="top:247.35px;font-size:10.2px;line-height:11.393px;color:#7d1f68;font-weight:bold;right:186.00px;transform:scaleX(0.83);transform-origin:100% 0;-webkit-text-stroke:0.4px currentColor;">506</div>
<svg class="abs" style="left:390.60px;top:412.84px" width="20.8" height="20.7" viewBox="0 0 20.8 20.7"><rect x="0" y="0" width="20.8" height="20.7" fill="#c4286f"/><polygon fill="#fff" points="4.20,4.10 7.70,4.10 7.70,17.00 4.30,17.00 4.30,7.20 2.40,8.00 1.90,5.80"/><text transform="translate(10.30,17.0) scale(0.830,1)" font-size="18.0" font-weight="bold" fill="#fff" stroke="#fff" stroke-width="0.25" font-family="Liberation Sans">4</text></svg>
<div class="t" style="top:425.11px;font-size:10.2px;line-height:11.393px;color:#c4286f;font-weight:bold;left:417.80px;transform:scaleX(0.79);transform-origin:0 0;-webkit-text-stroke:0.4px currentColor;">Anhang</div>
<div class="t" style="top:425.11px;font-size:10.2px;line-height:11.393px;color:#c4286f;font-weight:bold;right:186.00px;transform:scaleX(0.83);transform-origin:100% 0;-webkit-text-stroke:0.4px currentColor;">538</div>
<div class="t" style="top:93.26px;font-size:8.6px;line-height:9.606px;color:#4d4f52;font-style:italic;left:555.30px;transform:scaleX(0.814);transform-origin:0 0;-webkit-text-stroke:0.12px currentColor;">Amalfi – Pogerola</div>
<div class="t" style="top:93.26px;font-size:8.6px;line-height:9.606px;color:#4d4f52;font-style:italic;left:660.50px;transform:scaleX(0.8279);transform-origin:0 0;-webkit-text-stroke:0.12px currentColor;">355</div>
<div class="t" style="top:104.37px;font-size:8.6px;line-height:9.606px;color:#4d4f52;font-style:italic;left:555.30px;transform:scaleX(0.814);transform-origin:0 0;-webkit-text-stroke:0.12px currentColor;">Baia di Jeranto</div>
<div class="t" style="top:104.37px;font-size:8.6px;line-height:9.606px;color:#4d4f52;font-style:italic;left:660.50px;transform:scaleX(0.8279);transform-origin:0 0;-webkit-text-stroke:0.12px currentColor;">308, 311</div>
<div class="t" style="top:115.48px;font-size:8.6px;line-height:9.606px;color:#4d4f52;font-style:italic;left:555.30px;transform:scaleX(0.8249);transform-origin:0 0;-webkit-text-stroke:0.12px currentColor;">Campagnano (Ischia)</div>
<div class="t" style="top:115.48px;font-size:8.6px;line-height:9.606px;color:#4d4f52;font-style:italic;left:660.50px;transform:scaleX(0.8279);transform-origin:0 0;-webkit-text-stroke:0.12px currentColor;">175</div>
<div class="t" style="top:126.59px;font-size:8.6px;line-height:9.606px;color:#4d4f52;font-style:italic;left:555.30px;transform:scaleX(0.7964);transform-origin:0 0;-webkit-text-stroke:0.12px currentColor;">Colle La Serra/Bomerano</div>
<div class="t" style="top:126.59px;font-size:8.6px;line-height:9.606px;color:#4d4f52;font-style:italic;left:660.50px;transform:scaleX(0.8279);transform-origin:0 0;-webkit-text-stroke:0.12px currentColor;">338, 345</div>
<div class="t" style="top:137.70px;font-size:8.6px;line-height:9.606px;color:#4d4f52;font-style:italic;left:555.30px;transform:scaleX(0.8143);transform-origin:0 0;-webkit-text-stroke:0.12px currentColor;">Corpo di Cava –</div>
<div class="t" style="top:148.81px;font-size:8.6px;line-height:9.606px;color:#4d4f52;font-style:italic;left:564.30px;transform:scaleX(0.814);transform-origin:0 0;-webkit-text-stroke:0.12px currentColor;">Cappella Vecchia</div>
<div class="t" style="top:148.81px;font-size:8.6px;line-height:9.606px;color:#4d4f52;font-style:italic;left:660.50px;transform:scaleX(0.8279);transform-origin:0 0;-webkit-text-stroke:0.12px currentColor;">382, 386</div>
<div class="t" style="top:159.92px;font-size:8.6px;line-height:9.606px;color:#4d4f52;font-style:italic;left:555.30px;transform:scaleX(0.814);transform-origin:0 0;-webkit-text-stroke:0.12px currentColor;">Cratere degli Astroni</div>
<div class="t" style="top:159.92px;font-size:8.6px;line-height:9.606px;color:#4d4f52;font-style:italic;left:660.50px;transform:scaleX(0.8279);transform-origin:0 0;-webkit-text-stroke:0.12px currentColor;">205</div>
<div class="t" style="top:171.03px;font-size:8.6px;line-height:9.606px;color:#4d4f52;font-style:italic;left:555.30px;transform:scaleX(0.7853);transform-origin:0 0;-webkit-text-stroke:0.12px currentColor;">Gran Cono (Vesuv)</div>
<div class="t" style="top:171.03px;font-size:8.6px;line-height:9.606px;color:#4d4f52;font-style:italic;left:660.50px;transform:scaleX(0.8279);transform-origin:0 0;-webkit-text-stroke:0.12px currentColor;">235</div>
<div class="t" style="top:182.14px;font-size:8.6px;line-height:9.606px;color:#4d4f52;font-style:italic;left:555.30px;transform:scaleX(0.814);transform-origin:0 0;-webkit-text-stroke:0.12px currentColor;">Monte Cervialto (Picentini)</div>
<div class="t" style="top:182.14px;font-size:8.6px;line-height:9.606px;color:#4d4f52;font-style:italic;left:660.50px;transform:scaleX(0.8279);transform-origin:0 0;-webkit-text-stroke:0.12px currentColor;">459</div>
<div class="t" style="top:193.25px;font-size:8.6px;line-height:9.606px;color:#4d4f52;font-style:italic;left:555.30px;transform:scaleX(0.8174);transform-origin:0 0;-webkit-text-stroke:0.12px currentColor;">Monte di Miseno</div>
<div class="t" style="top:193.25px;font-size:8.6px;line-height:9.606px;color:#4d4f52;font-style:italic;left:660.50px;transform:scaleX(0.8279);transform-origin:0 0;-webkit-text-stroke:0.12px currentColor;">217</div>
<div class="t" style="top:204.36px;font-size:8.6px;line-height:9.606px;color:#4d4f52;font-style:italic;left:555.30px;transform:scaleX(0.814);transform-origin:0 0;-webkit-text-stroke:0.12px currentColor;">Monte Epomeo (Ischia)</div>
<div class="t" style="top:204.36px;font-size:8.6px;line-height:9.606px;color:#4d4f52;font-style:italic;left:660.50px;transform:scaleX(0.8279);transform-origin:0 0;-webkit-text-stroke:0.12px currentColor;">160, 169</div>
<div class="t" style="top:215.47px;font-size:8.6px;line-height:9.606px;color:#4d4f52;font-style:italic;left:555.30px;transform:scaleX(0.814);transform-origin:0 0;-webkit-text-stroke:0.12px currentColor;">Monte Faito/</div>
<div class="t" style="top:226.58px;font-size:8.6px;line-height:9.606px;color:#4d4f52;font-style:italic;left:564.30px;transform:scaleX(0.8116);transform-origin:0 0;-webkit-text-stroke:0.12px currentColor;">Santuario S. Michele</div>
<div class="t" style="top:226.58px;font-size:8.6px;line-height:9.606px;color:#4d4f52;font-style:italic;left:660.50px;transform:scaleX(0.8279);transform-origin:0 0;-webkit-text-stroke:0.12px currentColor;">281, 287</div>
<div class="t" style="top:237.69px;font-size:8.6px;line-height:9.606px;color:#4d4f52;font-style:italic;left:555.30px;transform:scaleX(0.814);transform-origin:0 0;-webkit-text-stroke:0.12px currentColor;">Monte Finestra</div>
<div class="t" style="top:237.69px;font-size:8.6px;line-height:9.606px;color:#4d4f52;font-style:italic;left:660.50px;transform:scaleX(0.8279);transform-origin:0 0;-webkit-text-stroke:0.12px currentColor;">386</div>
<div class="t" style="top:248.80px;font-size:8.6px;line-height:9.606px;color:#4d4f52;font-style:italic;left:555.30px;transform:scaleX(0.814);transform-origin:0 0;-webkit-text-stroke:0.12px currentColor;">Monte Janara (Matese)</div>
<div class="t" style="top:248.80px;font-size:8.6px;line-height:9.606px;color:#4d4f52;font-style:italic;left:660.50px;transform:scaleX(0.8279);transform-origin:0 0;-webkit-text-stroke:0.12px currentColor;">429</div>
<div class="t" style="top:259.91px;font-size:8.6px;line-height:9.606px;color:#4d4f52;font-style:italic;left:555.30px;transform:scaleX(0.814);transform-origin:0 0;-webkit-text-stroke:0.12px currentColor;">Monte Nuovo</div>
<div class="t" style="top:259.91px;font-size:8.6px;line-height:9.606px;color:#4d4f52;font-style:italic;left:660.50px;transform:scaleX(0.8279);transform-origin:0 0;-webkit-text-stroke:0.12px currentColor;">206</div>
<div class="t" style="top:271.02px;font-size:8.6px;line-height:9.606px;color:#4d4f52;font-style:italic;left:555.30px;transform:scaleX(0.814);transform-origin:0 0;-webkit-text-stroke:0.12px currentColor;">Monte Rotaro (Ischia)</div>
<div class="t" style="top:271.02px;font-size:8.6px;line-height:9.606px;color:#4d4f52;font-style:italic;left:660.50px;transform:scaleX(0.8279);transform-origin:0 0;-webkit-text-stroke:0.12px currentColor;">148</div>
<div class="t" style="top:282.13px;font-size:8.6px;line-height:9.606px;color:#4d4f52;font-style:italic;left:555.30px;transform:scaleX(0.7807);transform-origin:0 0;-webkit-text-stroke:0.12px currentColor;">Monte S. Angelo a Tre Pizzi</div>
<div class="t" style="top:282.13px;font-size:8.6px;line-height:9.606px;color:#4d4f52;font-style:italic;left:660.50px;transform:scaleX(0.8279);transform-origin:0 0;-webkit-text-stroke:0.12px currentColor;">333</div>
<div class="t" style="top:293.24px;font-size:8.6px;line-height:9.606px;color:#4d4f52;font-style:italic;left:555.30px;transform:scaleX(0.7978);transform-origin:0 0;-webkit-text-stroke:0.12px currentColor;">Monte S. Costanzo</div>
<div class="t" style="top:293.24px;font-size:8.6px;line-height:9.606px;color:#4d4f52;font-style:italic;left:660.50px;transform:scaleX(0.8279);transform-origin:0 0;-webkit-text-stroke:0.12px currentColor;">313</div>
<div class="t" style="top:304.35px;font-size:8.6px;line-height:9.606px;color:#4d4f52;font-style:italic;left:555.30px;transform:scaleX(0.814);transform-origin:0 0;-webkit-text-stroke:0.12px currentColor;">Monte Solaro (Capri)</div>
<div class="t" style="top:304.35px;font-size:8.6px;line-height:9.606px;color:#4d4f52;font-style:italic;left:660.50px;transform:scaleX(0.8279);transform-origin:0 0;-webkit-text-stroke:0.12px currentColor;">122</div>
<div class="t" style="top:315.46px;font-size:8.6px;line-height:9.606px;color:#4d4f52;font-style:italic;left:555.30px;transform:scaleX(0.8115);transform-origin:0 0;-webkit-text-stroke:0.12px currentColor;">Monte Vico (Ischia)</div>
<div class="t" style="top:315.46px;font-size:8.6px;line-height:9.606px;color:#4d4f52;font-style:italic;left:660.50px;transform:scaleX(0.8279);transform-origin:0 0;-webkit-text-stroke:0.12px currentColor;">152</div>
<div class="t" style="top:326.57px;font-size:8.6px;line-height:9.606px;color:#4d4f52;font-style:italic;left:555.30px;transform:scaleX(0.814);transform-origin:0 0;-webkit-text-stroke:0.12px currentColor;">Montepertuso – Nocelle</div>
<div class="t" style="top:326.57px;font-size:8.6px;line-height:9.606px;color:#4d4f52;font-style:italic;left:660.50px;transform:scaleX(0.8279);transform-origin:0 0;-webkit-text-stroke:0.12px currentColor;">333</div>
<div class="t" style="top:337.68px;font-size:8.6px;line-height:9.606px;color:#4d4f52;font-style:italic;left:555.30px;transform:scaleX(0.8473);transform-origin:0 0;-webkit-text-stroke:0.12px currentColor;">Montevergine</div>
<div class="t" style="top:337.68px;font-size:8.6px;line-height:9.606px;color:#4d4f52;font-style:italic;left:660.50px;transform:scaleX(0.8279);transform-origin:0 0;-webkit-text-stroke:0.12px currentColor;">457</div>
<div class="t" style="top:348.79px;font-size:8.6px;line-height:9.606px;color:#4d4f52;font-style:italic;left:555.30px;transform:scaleX(0.814);transform-origin:0 0;-webkit-text-stroke:0.12px currentColor;">Positano – Montepertuso</div>
<div class="t" style="top:348.79px;font-size:8.6px;line-height:9.606px;color:#4d4f52;font-style:italic;left:660.50px;transform:scaleX(0.8279);transform-origin:0 0;-webkit-text-stroke:0.12px currentColor;">333</div>
<div class="t" style="top:359.90px;font-size:8.6px;line-height:9.606px;color:#4d4f52;font-style:italic;left:555.30px;transform:scaleX(0.7824);transform-origin:0 0;-webkit-text-stroke:0.12px currentColor;">Oasi di San Silvestro</div>
<div class="t" style="top:359.90px;font-size:8.6px;line-height:9.606px;color:#4d4f52;font-style:italic;left:660.50px;transform:scaleX(0.8279);transform-origin:0 0;-webkit-text-stroke:0.12px currentColor;">409</div>
<div class="t" style="top:371.01px;font-size:8.6px;line-height:9.606px;color:#4d4f52;font-style:italic;left:555.30px;transform:scaleX(0.8327);transform-origin:0 0;-webkit-text-stroke:0.12px currentColor;">Punta Campanella</div>
<div class="t" style="top:371.01px;font-size:8.6px;line-height:9.606px;color:#4d4f52;font-style:italic;left:660.50px;transform:scaleX(0.8279);transform-origin:0 0;-webkit-text-stroke:0.12px currentColor;">313</div>
<div class="t" style="top:382.12px;font-size:8.6px;line-height:9.606px;color:#4d4f52;font-style:italic;left:555.30px;transform:scaleX(0.7945);transform-origin:0 0;-webkit-text-stroke:0.12px currentColor;">Punta Caruso (Ischia)</div>
<div class="t" style="top:382.12px;font-size:8.6px;line-height:9.606px;color:#4d4f52;font-style:italic;left:660.50px;transform:scaleX(0.8279);transform-origin:0 0;-webkit-text-stroke:0.12px currentColor;">160</div>
<div class="t" style="top:393.23px;font-size:8.6px;line-height:9.606px;color:#4d4f52;font-style:italic;left:555.30px;transform:scaleX(0.8244);transform-origin:0 0;-webkit-text-stroke:0.12px currentColor;">Ravello (via Atrani) – Amalfi</div>
<div class="t" style="top:393.23px;font-size:8.6px;line-height:9.606px;color:#4d4f52;font-style:italic;left:660.50px;transform:scaleX(0.8279);transform-origin:0 0;-webkit-text-stroke:0.12px currentColor;">366</div>
<div class="t" style="top:404.34px;font-size:8.6px;line-height:9.606px;color:#4d4f52;font-style:italic;left:555.30px;transform:scaleX(0.8007);transform-origin:0 0;-webkit-text-stroke:0.12px currentColor;">Ravello (via Scala) – Amalfi</div>
<div class="t" style="top:404.34px;font-size:8.6px;line-height:9.606px;color:#4d4f52;font-style:italic;left:660.50px;transform:scaleX(0.8279);transform-origin:0 0;-webkit-text-stroke:0.12px currentColor;">365</div>
<div class="t" style="top:415.45px;font-size:8.6px;line-height:9.606px;color:#4d4f52;font-style:italic;left:555.30px;transform:scaleX(0.79);transform-origin:0 0;-webkit-text-stroke:0.12px currentColor;">Scala Fenicia (Capri)</div>
<div class="t" style="top:415.45px;font-size:8.6px;line-height:9.606px;color:#4d4f52;font-style:italic;left:660.50px;transform:scaleX(0.8279);transform-origin:0 0;-webkit-text-stroke:0.12px currentColor;">121</div>
<div class="t" style="top:426.56px;font-size:8.6px;line-height:9.606px;color:#4d4f52;font-style:italic;left:555.30px;transform:scaleX(0.814);transform-origin:0 0;-webkit-text-stroke:0.12px currentColor;">Sentiero degli Dei („Götterweg“)</div>
<div class="t" style="top:426.56px;font-size:8.6px;line-height:9.606px;color:#4d4f52;font-style:italic;left:660.50px;transform:scaleX(0.8279);transform-origin:0 0;-webkit-text-stroke:0.12px currentColor;">333, 344</div>
<div class="t" style="top:437.67px;font-size:8.6px;line-height:9.606px;color:#4d4f52;font-style:italic;left:555.30px;transform:scaleX(0.7945);transform-origin:0 0;-webkit-text-stroke:0.12px currentColor;">Sentiero dei</div>
<div class="t" style="top:448.78px;font-size:8.6px;line-height:9.606px;color:#4d4f52;font-style:italic;left:564.30px;transform:scaleX(0.814);transform-origin:0 0;-webkit-text-stroke:0.12px currentColor;">Fortini Borbonici (Capri)</div>
<div class="t" style="top:448.78px;font-size:8.6px;line-height:9.606px;color:#4d4f52;font-style:italic;left:660.50px;transform:scaleX(0.8279);transform-origin:0 0;-webkit-text-stroke:0.12px currentColor;">123</div>
<div class="t" style="top:459.89px;font-size:8.6px;line-height:9.606px;color:#4d4f52;font-style:italic;left:555.30px;transform:scaleX(0.814);transform-origin:0 0;-webkit-text-stroke:0.12px currentColor;">Sentiero dei Limoni</div>
<div class="t" style="top:459.89px;font-size:8.6px;line-height:9.606px;color:#4d4f52;font-style:italic;left:660.50px;transform:scaleX(0.8279);transform-origin:0 0;-webkit-text-stroke:0.12px currentColor;">369, 372</div>
<div class="t" style="top:471.00px;font-size:8.6px;line-height:9.606px;color:#4d4f52;font-style:italic;left:555.30px;transform:scaleX(0.814);transform-origin:0 0;-webkit-text-stroke:0.12px currentColor;">Valle delle Ferriere</div>
<div class="t" style="top:471.00px;font-size:8.6px;line-height:9.606px;color:#4d4f52;font-style:italic;left:660.50px;transform:scaleX(0.8279);transform-origin:0 0;-webkit-text-stroke:0.12px currentColor;">354</div>
<div class="t" style="top:482.11px;font-size:8.6px;line-height:9.606px;color:#4d4f52;font-style:italic;left:555.30px;transform:scaleX(0.814);transform-origin:0 0;-webkit-text-stroke:0.12px currentColor;">Valle dell’Inferno (Vesuv)</div>
<div class="t" style="top:482.11px;font-size:8.6px;line-height:9.606px;color:#4d4f52;font-style:italic;left:660.50px;transform:scaleX(0.8279);transform-origin:0 0;-webkit-text-stroke:0.12px currentColor;">237</div>
<div class="t" style="top:493.22px;font-size:8.6px;line-height:9.606px;color:#4d4f52;font-style:italic;left:555.30px;transform:scaleX(0.814);transform-origin:0 0;-webkit-text-stroke:0.12px currentColor;">Villa Jovis und</div>
<div class="t" style="top:504.33px;font-size:8.6px;line-height:9.606px;color:#4d4f52;font-style:italic;left:564.30px;transform:scaleX(0.814);transform-origin:0 0;-webkit-text-stroke:0.12px currentColor;">der Südosten von Capri</div>
<div class="t" style="top:504.33px;font-size:8.6px;line-height:9.606px;color:#4d4f52;font-style:italic;left:660.50px;transform:scaleX(0.8279);transform-origin:0 0;-webkit-text-stroke:0.12px currentColor;">121</div>
<div class="t" style="top:515.44px;font-size:8.6px;line-height:9.606px;color:#4d4f52;font-style:italic;left:555.30px;transform:scaleX(0.814);transform-origin:0 0;-webkit-text-stroke:0.12px currentColor;">Vivara (Procida)</div>
<div class="t" style="top:515.44px;font-size:8.6px;line-height:9.606px;color:#4d4f52;font-style:italic;left:660.50px;transform:scaleX(0.8279);transform-origin:0 0;-webkit-text-stroke:0.12px currentColor;">189</div>
<div class="t" style="top:50.27px;font-size:12.3px;line-height:13.739px;color:#7b858a;font-weight:bold;left:555.80px;transform:scaleX(0.89);transform-origin:0 0;-webkit-text-stroke:0.4px currentColor;">Ausgewählte</div>
<div class="t" style="top:65.67px;font-size:12.3px;line-height:13.739px;color:#7b858a;font-weight:bold;left:555.80px;transform:scaleX(0.89);transform-origin:0 0;-webkit-text-stroke:0.4px currentColor;">Wanderungen (A–Z)</div>
</div>
</body></html>
